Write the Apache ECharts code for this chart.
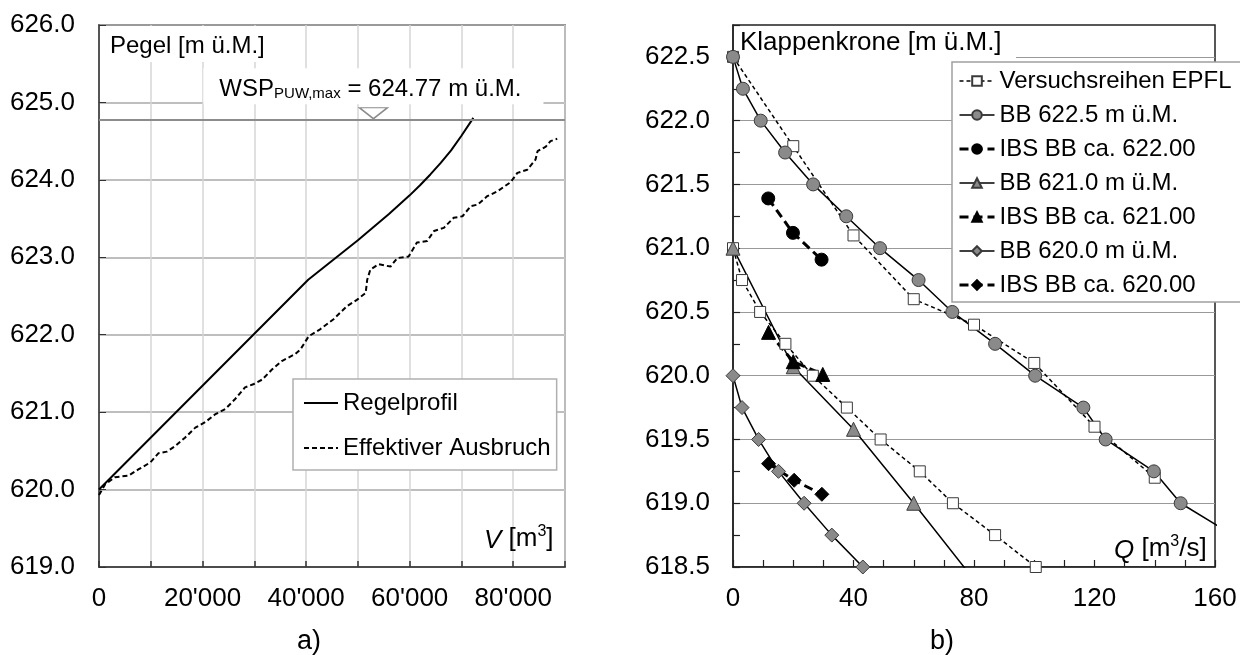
<!DOCTYPE html>
<html><head><meta charset="utf-8">
<script src="https://cdn.jsdelivr.net/npm/echarts@6/dist/echarts.min.js"></script>
<style>html,body{margin:0;padding:0;background:#fff}#c{width:1240px;height:655px}</style>
</head><body><div id="c"></div>
<script>
const FONT = '"Liberation Sans", Arial, Helvetica, sans-serif';

// ---------- Panel a) : Pegel vs. Volumen ----------
const regelV = [0, 40400, 50000, 56000, 60000, 62000, 64000, 66000, 68000, 70000, 72300];
const regelH = [620.0, 622.71, 623.22, 623.56, 623.80, 623.93, 624.07, 624.22, 624.38, 624.57, 624.80];

const effV = [0,1200,3100,5700,7600,9900,11500,13100,14700,16600,18600,20500,22400,24400,26300,
  28200,29800,31500,33400,35300,37900,38900,40500,42700,45300,47900,49800,51500,51800,52400,
  54000,56300,57600,59800,61400,63400,64700,66600,68500,70200,71800,73100,75000,76900,79500,
  80800,82700,84300,84700,86300,87200,88500];
const effH = [619.93,620.07,620.16,620.18,620.26,620.35,620.47,620.49,620.56,620.67,620.80,620.87,
  620.97,621.04,621.17,621.32,621.36,621.42,621.55,621.66,621.75,621.81,621.98,622.07,622.20,
  622.37,622.45,622.54,622.71,622.84,622.91,622.88,622.99,623.01,623.19,623.21,623.34,623.38,
  623.51,623.53,623.66,623.68,623.79,623.85,623.97,624.09,624.13,624.26,624.37,624.43,624.50,624.53];

const wspLevel = 624.77;
const wspMarkV = 53000;

// ---------- Panel b) : Klappenkrone vs. Abfluss ----------
const epflQ = [0,20,40,60,80,100,120,140,null,0,3,9,17.4,26.5,37.8,49,62,73,87,100.5];
const epflH = [622.5,621.8,621.1,620.6,620.4,620.1,619.6,619.2,null,621.0,620.75,620.5,620.25,620.0,619.75,619.5,619.25,619.0,618.75,618.5];

const bb6225Q = [0,3.3,9.2,17.3,26.6,37.6,48.8,61.6,72.8,87.0,100.3,116.3,123.7,139.7,148.6,166];
const bb6225H = [622.5,622.25,622.0,621.75,621.5,621.25,621.0,620.75,620.5,620.25,620.0,619.75,619.5,619.25,619.0,618.75];

const ibs622Q = [11.7,19.9,29.4];
const ibs622H = [621.39,621.12,620.91];

const bb621Q = [0,20,40,60,80];
const bb621H = [621.0,620.07,619.58,619.0,618.4];

const ibs621Q = [11.8,20,29.8];
const ibs621H = [620.34,620.11,620.01];

const bb620Q = [0,3.0,8.5,15.1,23.6,32.8,43.1];
const bb620H = [620.0,619.75,619.5,619.25,619.0,618.75,618.5];

const ibs620Q = [11.8,20.3,29.5];
const ibs620H = [619.31,619.18,619.07];

const pairs = (xs, ys) => xs.map((x, i) => [x, ys[i]]);

const axisLabelBase = {fontSize: 26, color: '#000', fontFamily: FONT};

const chart = echarts.init(document.getElementById('c'), null, {renderer: 'canvas'});

const gray = '#8a8a8a';
const dark = '#3a3a3a';

function bbSeries(name, qs, hs, symbol, size) {
  return {name, type: 'line', xAxisIndex: 1, yAxisIndex: 1, data: pairs(qs, hs),
    symbol, symbolSize: size, showSymbol: true, showAllSymbol: true,
    lineStyle: {color: '#000', width: 1.5},
    itemStyle: {color: gray, borderColor: dark, borderWidth: 1}};
}
function ibsSeries(name, qs, hs, symbol, size) {
  return {name, type: 'line', xAxisIndex: 1, yAxisIndex: 1, data: pairs(qs, hs),
    symbol, symbolSize: size, showSymbol: true, showAllSymbol: true,
    lineStyle: {color: '#000', width: 3, type: [9, 5]},
    itemStyle: {color: '#000', borderColor: '#000', borderWidth: 1}};
}

const option = {
  animation: false,
  textStyle: {fontFamily: FONT, color: '#000'},
  grid: [
    {left: 99, top: 25, width: 466, height: 542, show: true, borderColor: '#404040', borderWidth: 1.5},
    {left: 733, top: 25, width: 482, height: 542, show: true, borderColor: '#202020', borderWidth: 1.5}
  ],
  xAxis: [
    {gridIndex: 0, type: 'value', min: 0, max: 90000, interval: 10000,
      axisLine: {onZero: false, lineStyle: {color: '#333', width: 1.5}},
      axisTick: {inside: true, length: 6, lineStyle: {color: '#333', width: 1.5}},
      axisLabel: Object.assign({}, axisLabelBase, {margin: 19,
        formatter: v => (v % 20000 !== 0) ? '' : (v === 0 ? '0' : (v / 1000) + "'000")}),
      splitLine: {show: true, lineStyle: {color: '#d6d6d6', width: 1.5}}},
    {gridIndex: 1, type: 'value', min: 0, max: 160, interval: 10,
      axisLine: {onZero: false, lineStyle: {color: '#202020', width: 1.5}},
      axisTick: {inside: true, length: 7, lineStyle: {color: '#202020', width: 1.2}},
      axisLabel: Object.assign({}, axisLabelBase, {margin: 19,
        formatter: v => (v % 40 !== 0) ? '' : String(v)}),
      splitLine: {show: false}}
  ],
  yAxis: [
    {gridIndex: 0, type: 'value', min: 619, max: 626, interval: 1,
      axisLine: {onZero: false, lineStyle: {color: '#333', width: 1.5}},
      axisTick: {inside: true, length: 7, lineStyle: {color: '#333'}},
      axisLabel: Object.assign({}, axisLabelBase, {margin: 24, formatter: v => v.toFixed(1)}),
      splitLine: {show: true, lineStyle: {color: '#a8a8a8', width: 1.5}}},
    {gridIndex: 1, type: 'value', min: 618.5, max: 622.75, interval: 0.25,
      axisLine: {onZero: false, lineStyle: {color: '#202020', width: 1.5}},
      axisTick: {inside: true, length: 7, lineStyle: {color: '#202020', width: 1.2}},
      axisLabel: Object.assign({}, axisLabelBase, {margin: 23,
        formatter: v => Math.abs(v * 2 - Math.round(v * 2)) < 1e-6 ? v.toFixed(1) : ''}),
      splitLine: {show: true, lineStyle: {color: ['#999999', 'rgba(0,0,0,0)'], width: 1.2}}}
  ],
  legend: [
    {data: ['Regelprofil', 'Effektiver Ausbruch'], orient: 'vertical', left: 293, top: 379,
      itemWidth: 34, itemHeight: 12, itemGap: 21, padding: [12, 6, 10, 10],
      borderColor: '#b0b0b0', borderWidth: 1.5, backgroundColor: '#fff', selectedMode: false,
      itemStyle: {opacity: 0}, lineStyle: {width: 'inherit'},
      textStyle: {fontSize: 24, color: '#000', fontFamily: FONT}},
    {data: ['Versuchsreihen EPFL', 'BB 622.5 m ü.M.', 'IBS BB ca. 622.00', 'BB 621.0 m ü.M.',
            'IBS BB ca. 621.00', 'BB 620.0 m ü.M.', 'IBS BB ca. 620.00'],
      orient: 'vertical', left: 952, top: 62,
      itemWidth: 35, itemHeight: 12, itemGap: 10, padding: [7, 14, 5, 6],
      borderColor: '#a0a0a0', borderWidth: 1.5, backgroundColor: '#fff', selectedMode: false,
      lineStyle: {width: 'inherit'},
      textStyle: {fontSize: 24, color: '#000', fontFamily: FONT}}
  ],
  graphic: [
    {type: 'rect', left: 100, top: 26, shape: {width: 178, height: 36}, style: {fill: '#fff'}, z: 1},
    {type: 'text', left: 110, top: 34, z: 5,
      style: {text: 'Pegel [m ü.M.]', font: '24px ' + FONT, fill: '#000'}},
    {type: 'rect', left: 736, top: 27, shape: {width: 280, height: 33}, style: {fill: '#fff'}, z: 1},
    {type: 'text', left: 740, top: 30, z: 5,
      style: {text: 'Klappenkrone [m ü.M.]', font: '26px ' + FONT, fill: '#000'}},
    {type: 'text', left: 484, top: 524, z: 5,
      style: {text: '{i|V} [m{s|3}]', fill: '#000',
        rich: {i: {fontSize: 26, fontStyle: 'italic', fontFamily: FONT, lineHeight: 30, verticalAlign: 'bottom'},
               s: {fontSize: 16, fontFamily: FONT, lineHeight: 16, verticalAlign: 'top'}},
        font: '26px ' + FONT}},
    {type: 'text', left: 1114, top: 534, z: 5,
      style: {text: '{i|Q} [m{s|3}/s]', fill: '#000',
        rich: {i: {fontSize: 26, fontStyle: 'italic', fontFamily: FONT, lineHeight: 30, verticalAlign: 'bottom'},
               s: {fontSize: 16, fontFamily: FONT, lineHeight: 16, verticalAlign: 'top'}},
        font: '26px ' + FONT}},
    {type: 'text', left: 297, top: 628, z: 5, style: {text: 'a)', font: '27px ' + FONT, fill: '#000'}},
    {type: 'text', left: 930, top: 628, z: 5, style: {text: 'b)', font: '27px ' + FONT, fill: '#000'}}
  ],
  series: [
    {name: 'Regelprofil', type: 'line', xAxisIndex: 0, yAxisIndex: 0, data: pairs(regelV, regelH),
      symbol: 'none', lineStyle: {color: '#000', width: 2}, itemStyle: {color: '#000'}, z: 3,
      markLine: {silent: true, symbol: ['none', 'none'], label: {show: false},
        lineStyle: {color: '#8c8c8c', width: 2, type: 'solid'}, data: [{yAxis: wspLevel}]}},
    {name: 'Effektiver Ausbruch', type: 'line', xAxisIndex: 0, yAxisIndex: 0, data: pairs(effV, effH),
      symbol: 'none', lineStyle: {color: '#000', width: 2, type: [5, 3]}, itemStyle: {color: '#000'}, z: 3},
    {name: 'WSP', type: 'scatter', xAxisIndex: 0, yAxisIndex: 0, data: [[wspMarkV, wspLevel]],
      symbol: 'path://M0,0L20,0L10,8Z', symbolSize: [28, 11], symbolOffset: [0, -7], silent: true, z: 4,
      itemStyle: {color: '#fff', borderColor: '#8c8c8c', borderWidth: 1.5, opacity: 1},
      label: {show: true, position: 'top', distance: 3, backgroundColor: '#fff', padding: [3, 22, 3, 16],
        color: '#000', opacity: 1,
        formatter: '{m|WSP}{s|PUW,max}{m| = ' + wspLevel.toFixed(2) + ' m ü.M.}',
        rich: {m: {fontSize: 24, fontFamily: FONT, color: '#000', lineHeight: 30, verticalAlign: 'bottom'},
               s: {fontSize: 15, fontFamily: FONT, color: '#000', lineHeight: 18, verticalAlign: 'bottom'}}}},
    {name: 'Versuchsreihen EPFL', type: 'line', xAxisIndex: 1, yAxisIndex: 1, data: pairs(epflQ, epflH),
      symbol: 'rect', symbolSize: 11, showSymbol: true, showAllSymbol: true, connectNulls: false,
      lineStyle: {color: '#000', width: 1.5, type: [4, 3]},
      itemStyle: {color: '#fff', borderColor: dark, borderWidth: 1}},
    bbSeries('BB 622.5 m ü.M.', bb6225Q, bb6225H, 'circle', 13),
    ibsSeries('IBS BB ca. 622.00', ibs622Q, ibs622H, 'circle', 13),
    bbSeries('BB 621.0 m ü.M.', bb621Q, bb621H, 'triangle', 14),
    ibsSeries('IBS BB ca. 621.00', ibs621Q, ibs621H, 'triangle', 14),
    bbSeries('BB 620.0 m ü.M.', bb620Q, bb620H, 'diamond', 14),
    ibsSeries('IBS BB ca. 620.00', ibs620Q, ibs620H, 'diamond', 14)
  ]
};
chart.setOption(option);
</script></body></html>
